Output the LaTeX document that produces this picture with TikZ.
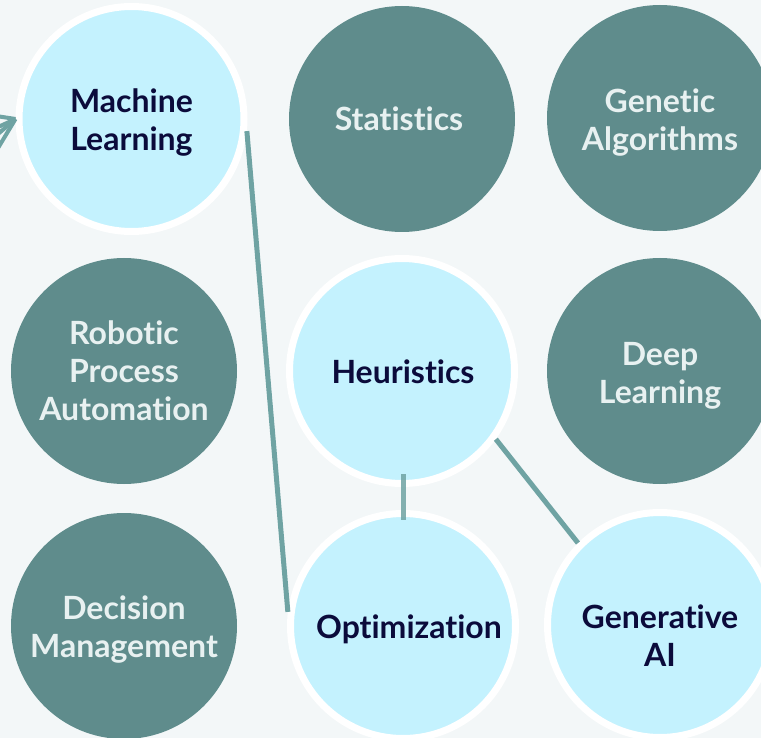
\documentclass[tikz,border=0pt]{standalone}
\usepackage{fontspec}
\setmainfont{Lato}[BoldFont={Lato Bold},Ligatures={NoCommon}]
\definecolor{bgc}{HTML}{F3F7F8}
\definecolor{darkc}{HTML}{5F8C8C}
\definecolor{lightc}{HTML}{C4F2FE}
\definecolor{navyc}{HTML}{0B0B3B}
\definecolor{paletext}{HTML}{E8F1F1}
\definecolor{linkc}{HTML}{6FA3A3}
\tikzset{
  lightball/.style={circle, fill=lightc, draw=white, line width=7pt, minimum size=225pt, inner sep=0pt},
  darkball/.style={circle, fill=darkc, minimum size=226pt, inner sep=0pt},
  balltext/.style={align=center, inner sep=0pt, font=\fontsize{32}{38}\selectfont\bfseries},
  navytext/.style={balltext, text=navyc},
  paletxt/.style={balltext, text=paletext},
  link/.style={draw=linkc, line width=5pt},
}
\begin{document}
\begin{tikzpicture}[x=1pt,y=-1pt]
\useasboundingbox (0,0) rectangle (761,738);
\fill[bgc] (0,0) rectangle (761,738);
\clip (0,0) rectangle (761,738);
% fan lines at left (behind)
\coordinate (f1) at (-30,112);
\coordinate (f2) at (-30,140);
\coordinate (f3) at (-30,158);
\coordinate (f4) at (-20,178);
\node[lightball] (ml) at (131.5,119) {};
\foreach \f in {f1,f2,f3,f4} \draw[link, line width=4pt] (ml.west) -- (\f);
\node[navytext] (mlt) at (131.5,123) {Machine\\Learning};
\node[darkball] (stat) at (402,119) {};
\node[paletxt] (statt) at (399,119) {Statistics};
\node[darkball] (gen) at (660,118) {};
\node[paletxt] (gent) at (660,123) {Genetic\\Algorithms};
\node[darkball] (rpa) at (124,371) {};
\node[paletxt] (rpat) at (124,371) {Robotic\\Process\\Automation};
\node[lightball] (heu) at (402,371) {};
\node[navytext] (heut) at (403,372) {Heuristics};
\node[darkball] (deep) at (660,371) {};
\node[paletxt] (deept) at (660,376) {Deep\\Learning};
\node[darkball] (dec) at (124,626) {};
\node[paletxt] (dect) at (124,630) {Decision\\Management};
\node[lightball] (opt) at (403,626) {};
\node[navytext] (optt) at (409,629) {Optimization};
\node[lightball] (gai) at (660,625) {};
\node[navytext] (gait) at (660,636) {Generative\\AI};
% connectors
\draw[link] (ml.-6) -- (opt.173);
\draw[link, draw opacity=0.85, shorten <=-13pt, shorten >=-10pt] (heu.south -| opt.north) -- (opt.north);
\draw[link] (heu.-36.4) -- (gai.135);
\end{tikzpicture}
\end{document}
